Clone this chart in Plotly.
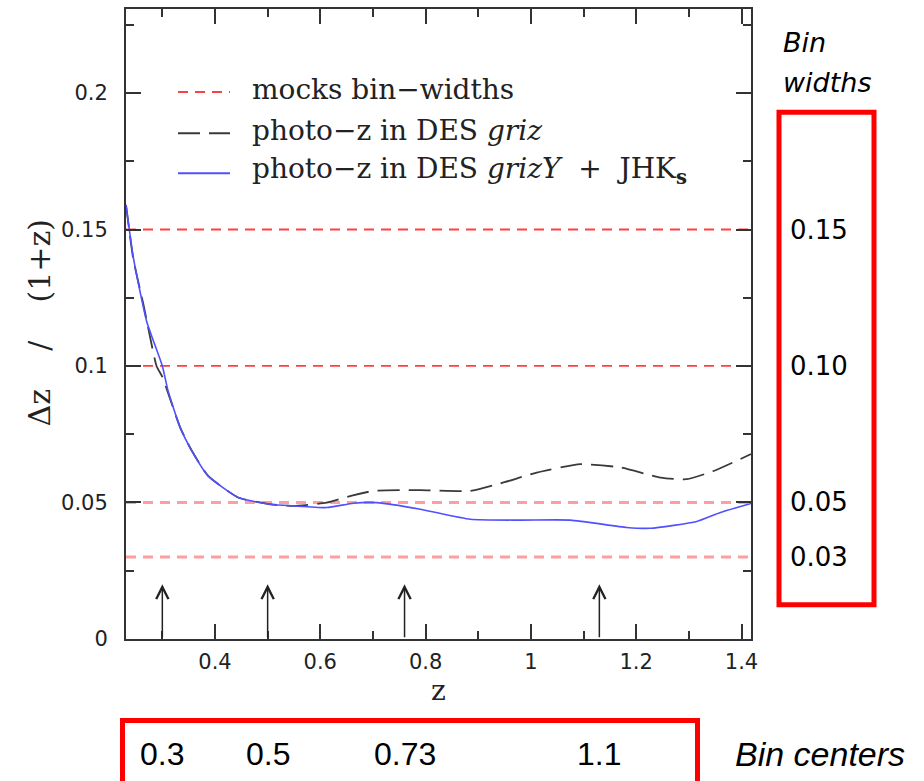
import plotly.graph_objects as go

# ---------------- data ----------------
z_griz = [0.231, 0.245, 0.264, 0.289, 0.300, 0.334, 0.356, 0.387, 0.444, 0.505,
          0.549, 0.612, 0.660, 0.701, 0.790, 0.885, 0.948, 1.011, 1.094, 1.170,
          1.246, 1.296, 1.347, 1.418]
dz_griz = [0.159, 0.139, 0.1226, 0.100, 0.096, 0.0774, 0.0689, 0.0597, 0.0518, 0.0493,
           0.0487, 0.0499, 0.0525, 0.0542, 0.0545, 0.0542, 0.0573, 0.0609, 0.0640, 0.0628,
           0.0591, 0.0585, 0.0615, 0.0677]

z_jhk = [0.231, 0.245, 0.270, 0.300, 0.311, 0.334, 0.356, 0.387, 0.444, 0.505,
         0.549, 0.612, 0.663, 0.707, 0.790, 0.885, 0.980, 1.075, 1.182, 1.227,
         1.315, 1.360, 1.418]
dz_jhk = [0.159, 0.1397, 0.1165, 0.100, 0.0908, 0.0774, 0.0689, 0.0597, 0.0518, 0.0493,
          0.0487, 0.0481, 0.0497, 0.0499, 0.0475, 0.0438, 0.0435, 0.0435, 0.0408, 0.0405,
          0.0430, 0.0463, 0.0496]

bin_widths = [0.15, 0.10, 0.05, 0.03]
bin_width_labels = ["0.15", "0.10", "0.05", "0.03"]

arrow_z = [0.30, 0.50, 0.76, 1.13]
arrow_top = 0.020
bin_center_labels = ["0.3", "0.5", "0.73", "1.1"]

x_range = [0.231, 1.418]
y_range = [0.0, 0.2308]

legend_names = ["mocks bin\u2212widths",
                "photo\u2212z in DES <i>griz</i>",
                "photo\u2212z in DES <i>grizY</i>\u00a0\u00a0+\u00a0\u00a0JHK<sub><b>s</b></sub>"]

# ---------------- styles ----------------
W, H = 924, 781          # reference frame used for paper-fraction placement
FIG_W, FIG_H = 931, 794  # page is rendered slightly reduced; compensate
RED_DARK = "#ff4040"
RED_LIGHT = "#ff9e9e"
BLACK_DASH = "#3a3a3a"
BLUE = "#5050ff"
AX = "#333333"
SERIF = "DejaVu Serif"
SANS = "DejaVu Sans"
ARIAL = "Liberation Sans"


def px(x):
    return x / W


def py(y):
    return 1 - y / H


fig = go.Figure()

# horizontal bin-width lines
for i, w in enumerate(bin_widths):
    light = w < 0.07
    fig.add_trace(go.Scatter(
        x=x_range, y=[w, w], mode="lines",
        line=dict(color=RED_LIGHT if light else RED_DARK, width=3 if light else 1.8,
                  dash="10px,7px"),
        name=legend_names[0], showlegend=False, hoverinfo="skip"))

fig.add_trace(go.Scatter(
    x=z_griz, y=dz_griz, mode="lines",
    line=dict(color=BLACK_DASH, width=1.8, dash="22px,9px", shape="spline", smoothing=0.5),
    name="photo-z in DES griz", showlegend=False))

fig.add_trace(go.Scatter(
    x=z_jhk, y=dz_jhk, mode="lines",
    line=dict(color=BLUE, width=1.6, shape="spline", smoothing=0.5),
    name="photo-z in DES grizY + JHKs", showlegend=False))

annotations = []
shapes = []

# arrows marking bin centres
for z in arrow_z:
    annotations.append(dict(
        x=z, y=arrow_top, ax=z, ay=0, xref="x", yref="y", axref="x", ayref="y",
        text="", showarrow=True, arrowhead=5, arrowsize=1.6, arrowwidth=1.5,
        arrowcolor="#222222", standoff=0, startstandoff=0))

# custom legend
leg_rows = [92, 133, 173]
leg_styles = [dict(color=RED_DARK, width=2, dash="10px,7px"),
              dict(color=BLACK_DASH, width=2, dash="22px,9px"),
              dict(color=BLUE, width=2)]
for name, yy, st in zip(legend_names, leg_rows, leg_styles):
    shapes.append(dict(type="line", xref="paper", yref="paper",
                       x0=px(178), x1=px(230), y0=py(yy), y1=py(yy), line=st))
    annotations.append(dict(x=px(250), y=py(yy - 3), xref="paper", yref="paper",
                            text=name, showarrow=False, xanchor="left", yanchor="middle",
                            font=dict(family=SERIF, size=28, color="#222222")))

# axis titles
annotations.append(dict(x=px(438.5), y=py(690), xref="paper", yref="paper", text="z",
                        showarrow=False, xanchor="center", yanchor="middle",
                        font=dict(family=SERIF, size=28, color="#222222")))
annotations.append(dict(x=px(39), y=py(323), xref="paper", yref="paper",
                        text="\u0394z\u00a0\u00a0\u00a0\u00a0/\u00a0\u00a0\u00a0\u00a0(1+z)",
                        textangle=-90, showarrow=False, xanchor="center", yanchor="middle",
                        font=dict(family=SERIF, size=30, color="#222222")))

# right-hand "Bin widths" box
annotations.append(dict(x=px(781), y=py(42), xref="paper", yref="paper", text="<i>Bin</i>",
                        showarrow=False, xanchor="left", yanchor="middle",
                        font=dict(family=SANS, size=27, color="black")))
annotations.append(dict(x=px(781), y=py(82), xref="paper", yref="paper", text="<i>widths</i>",
                        showarrow=False, xanchor="left", yanchor="middle",
                        font=dict(family=SANS, size=27, color="black")))
shapes.append(dict(type="rect", xref="paper", yref="paper",
                   x0=px(779), x1=px(874), y0=py(604), y1=py(112),
                   line=dict(color="#ff0000", width=5)))
for w, lab in zip(bin_widths, bin_width_labels):
    annotations.append(dict(x=px(788), y=w, xref="paper", yref="y", text=lab,
                            showarrow=False, xanchor="left", yanchor="middle",
                            font=dict(family=SANS, size=26, color="black")))

# bottom "Bin centers" box
shapes.append(dict(type="rect", xref="paper", yref="paper",
                   x0=px(122.5), x1=px(697.5), y0=py(783), y1=py(719.5),
                   line=dict(color="#ff0000", width=5)))
for z, lab in zip(arrow_z, bin_center_labels):
    annotations.append(dict(x=z, y=py(753), xref="x", yref="paper", text=lab,
                            showarrow=False, xanchor="center", yanchor="middle",
                            font=dict(family=ARIAL, size=32, color="black")))
annotations.append(dict(x=px(733), y=py(753), xref="paper", yref="paper",
                        text="<i>Bin centers</i>", showarrow=False, xanchor="left",
                        yanchor="middle", font=dict(family=ARIAL, size=34, color="black")))

axis_common = dict(showline=True, linecolor=AX, linewidth=2, mirror="allticks",
                   ticks="inside", ticklen=15, tickwidth=1.5, tickcolor=AX,
                   showgrid=False, zeroline=False,
                   tickfont=dict(family=SANS, size=21, color="#222222"))

fig.update_layout(
    width=FIG_W, height=FIG_H,
    margin=dict(l=0, r=0, t=0, b=0),
    paper_bgcolor="white", plot_bgcolor="white",
    showlegend=False,
    xaxis=dict(domain=[px(126), px(751)], range=x_range, tick0=0.4, dtick=0.2,
               ticklabelstandoff=3,
               minor=dict(dtick=0.1, tick0=0.3, ticks="inside", ticklen=8,
                          tickwidth=1.5, tickcolor=AX, showgrid=False),
               **axis_common),
    yaxis=dict(domain=[py(638), py(9)], range=y_range, tick0=0, dtick=0.05,
               ticklabelstandoff=12,
               minor=dict(dtick=0.025, tick0=0, ticks="inside", ticklen=8,
                          tickwidth=1.5, tickcolor=AX, showgrid=False),
               **axis_common),
    annotations=annotations,
    shapes=shapes,
)

fig.write_html("out.html")
